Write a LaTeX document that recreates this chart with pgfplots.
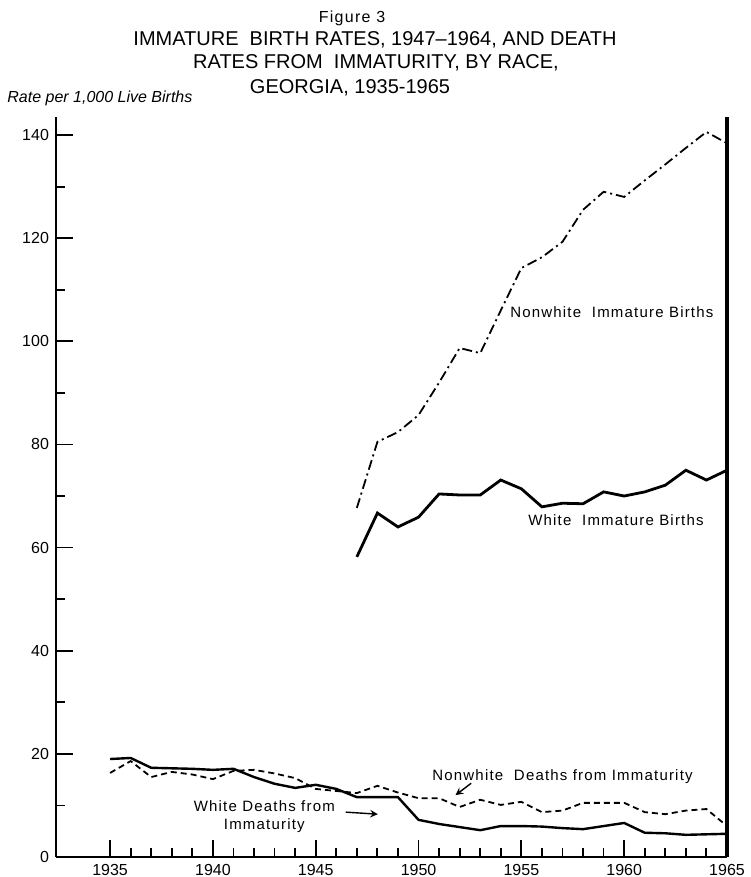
\documentclass[border=0pt]{standalone}
\usepackage{fontspec}
\setmainfont{Liberation Sans}
\usepackage{pgfplots}
\pgfplotsset{compat=1.18}

% rates per 1,000 live births
\begin{document}
\begin{tikzpicture}
\useasboundingbox (-28pt,-10pt) rectangle (347pt,428.5pt);
\begin{axis}[
    scale only axis,
    width=335.5pt, height=370pt,
    xmin=1932.37, xmax=1965,
    ymin=0, ymax=143.5,
    axis x line=bottom, axis y line=left,
    axis line style={-, line width=1.1pt},
    clip=false,
    xtick={1935,1940,...,1965},
    minor xtick={1936,...,1964},
    ytick={0,20,...,140},
    minor ytick={10,30,...,130},
    tick align=inside,
    major tick length=8.5pt,
    minor tick length=4.5pt,
    every tick/.style={black, line width=0.9pt},
    tick label style={font=\fontsize{8}{9}\selectfont},
    xticklabel style={/pgf/number format/1000 sep={}},
    /pgf/number format/assume math mode=true,
]
% nonwhite immature births
\addplot[black, line width=0.9pt, dash pattern=on 5pt off 2pt on 1pt off 2pt] coordinates {
 (1947,67.7) (1948,80.5) (1949,82.4) (1950,85.7) (1951,92.0) (1952,98.7)
 (1953,97.7) (1954,106.0) (1955,114.2) (1956,116.3) (1957,119.3) (1958,125.5)
 (1959,129.0) (1960,128.0) (1961,131.2) (1962,134.3) (1963,137.5) (1964,140.6)
 (1965,138.4)};
% white immature births
\addplot[black, line width=1.4pt] coordinates {
 (1947,58.2) (1948,66.7) (1949,64.0) (1950,65.9) (1951,70.4) (1952,70.2)
 (1953,70.2) (1954,73.1) (1955,71.4) (1956,67.9) (1957,68.6) (1958,68.5)
 (1959,70.8) (1960,70.0) (1961,70.8) (1962,72.1) (1963,75.0) (1964,73.1)
 (1965,75.0)};
% white deaths from immaturity
\addplot[black, line width=1.2pt] coordinates {
 (1935,19.0) (1936,19.2) (1937,17.3) (1938,17.2) (1939,17.1) (1940,16.9)
 (1941,17.1) (1942,15.5) (1943,14.2) (1944,13.4) (1945,14.0) (1946,13.2)
 (1947,11.6) (1948,11.6) (1949,11.6) (1950,7.2) (1951,6.4) (1952,5.8)
 (1953,5.2) (1954,6.0) (1955,6.0) (1956,5.9) (1957,5.6) (1958,5.4)
 (1959,6.0) (1960,6.6) (1961,4.7) (1962,4.6) (1963,4.3) (1964,4.4) (1965,4.5)};
% nonwhite deaths from immaturity
\addplot[black, line width=0.9pt, dash pattern=on 3pt off 2pt] coordinates {
 (1935,16.3) (1936,18.6) (1937,15.5) (1938,16.5) (1939,16.0) (1940,15.1)
 (1941,16.7) (1942,16.9) (1943,16.2) (1944,15.3) (1945,13.2) (1946,12.8)
 (1947,12.4) (1948,13.8) (1949,12.5) (1950,11.4) (1951,11.4) (1952,9.7)
 (1953,11.1) (1954,10.1) (1955,10.7) (1956,8.7) (1957,9.0) (1958,10.5)
 (1959,10.5) (1960,10.5) (1961,8.7) (1962,8.3) (1963,9.0) (1964,9.3) (1965,6.0)};

\draw[line width=1.6pt] (axis cs:1965,0) -- (axis cs:1965,143.5);

\begin{scope}[every node/.style={font=\fontsize{7.5}{9}\selectfont\addfontfeature{LetterSpace=8}}]
\node at (axis cs:1959.4,105.7) {Nonwhite\ \ Immature\ Births};
\node at (axis cs:1959.6,65.3) {White\ \ Immature\ Births};
\node at (axis cs:1957.0,15.5) {Nonwhite\ \ Deaths from Immaturity};
\node[align=center, inner sep=0pt] at (axis cs:1942.5,7.8) {White Deaths from\\Immaturity};
\end{scope}
\draw[-stealth, line width=0.7pt] (axis cs:1952.56,14.3) -- (axis cs:1951.8,12.0);
\draw[-stealth, line width=0.7pt] (axis cs:1946.46,8.7) -- (axis cs:1948.02,8.3);
\end{axis}

\node at (148pt,419.5pt) {\fontsize{8}{10}\selectfont\addfontfeature{LetterSpace=8}Figure 3};
\node at (159.5pt,408.5pt) {\fontsize{10}{12}\selectfont IMMATURE\ \ BIRTH RATES, 1947--1964, AND DEATH};
\node at (160pt,397pt) {\fontsize{10}{12}\selectfont RATES FROM\ \ IMMATURITY, BY RACE,};
\node at (147pt,384.5pt) {\fontsize{10}{12}\selectfont GEORGIA, 1935-1965};
\node[anchor=west, inner sep=0pt] at (-24.5pt,379.5pt) {\fontsize{8}{10}\selectfont\itshape Rate per 1,000 Live Births};
\end{tikzpicture}
\end{document}
